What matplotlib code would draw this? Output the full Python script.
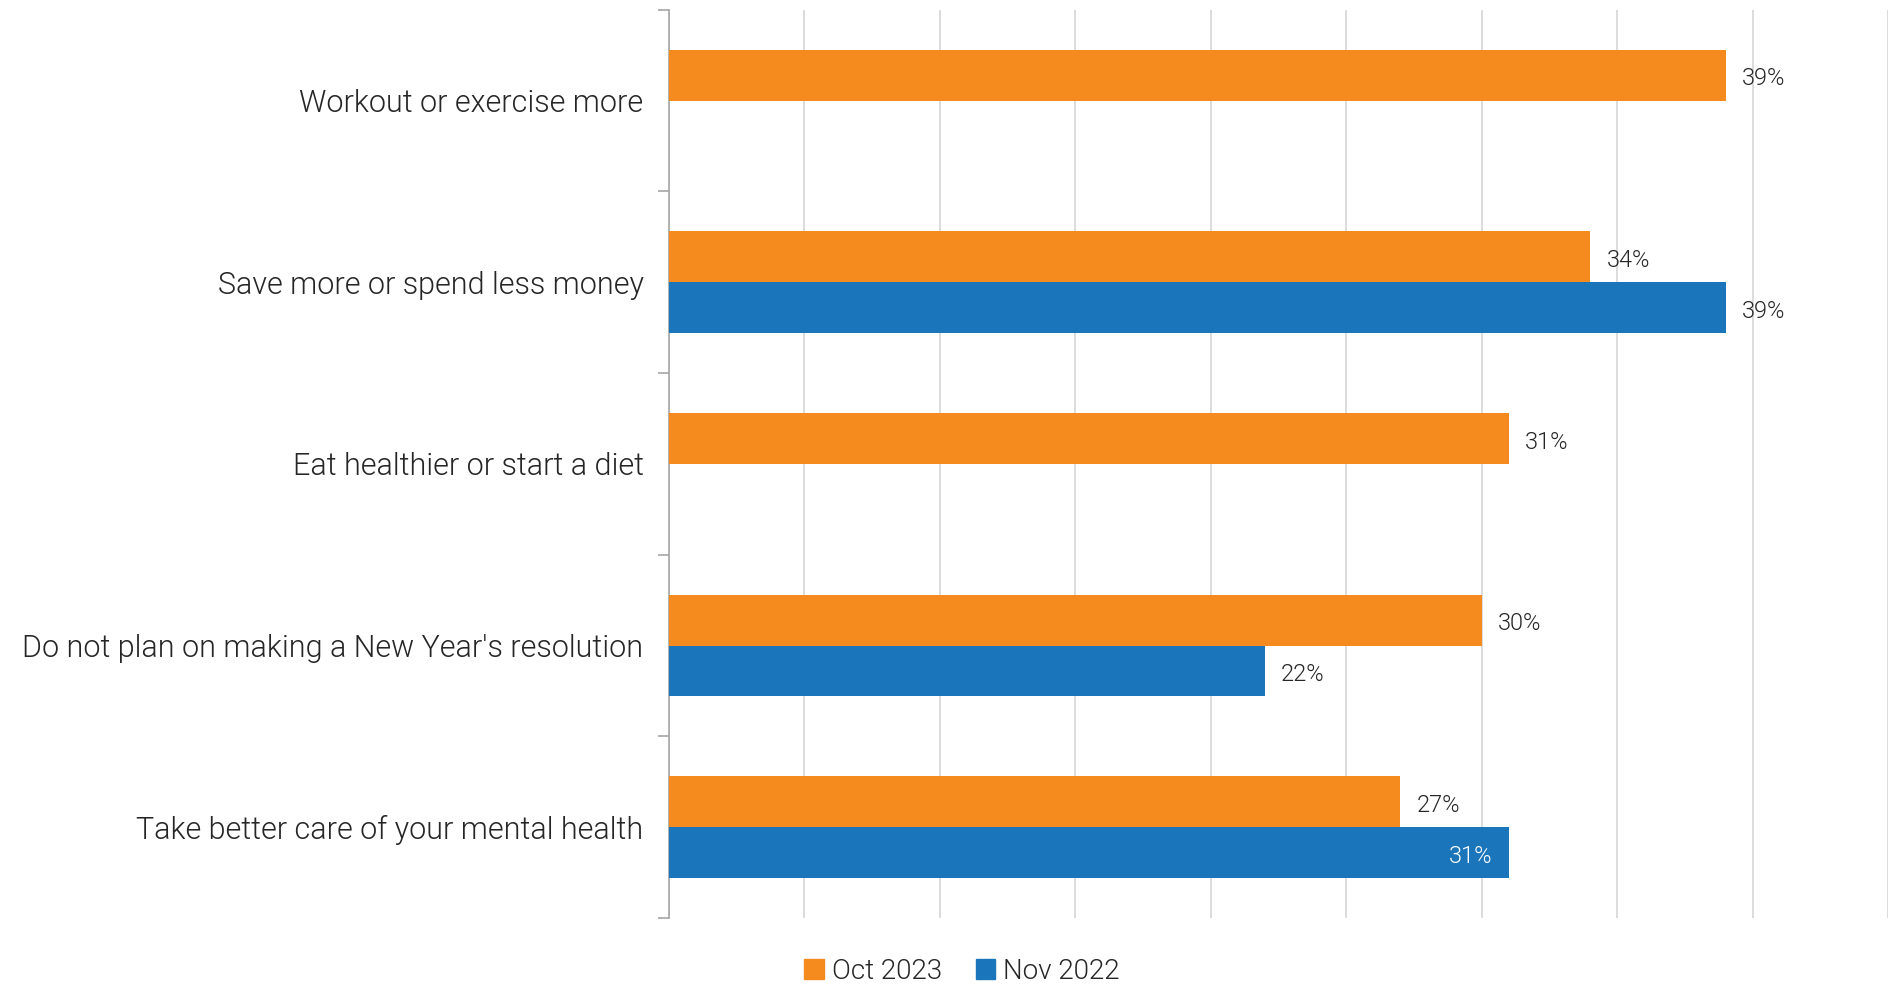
import numpy as np
import matplotlib.pyplot as plt
from matplotlib.patches import Patch

categories = [
    "Workout or exercise more",
    "Save more or spend less money",
    "Eat healthier or start a diet",
    "Do not plan on making a New Year's resolution",
    "Take better care of your mental health",
]
oct_2023 = [39, 34, 31, 30, 27]
nov_2022 = [None, 39, None, 22, 31]

orange = "#F58B1F"
blue = "#1B75BB"
text_col = "#262626"

plt.rcParams['font.family'] = ['Roboto', 'DejaVu Sans']
W = 300

fig = plt.figure(figsize=(18.94, 9.84), dpi=100)
ax = fig.add_axes([0.353, 0.067, 0.644, 0.923])

y = np.arange(len(categories))
h = 0.28

for i, v in enumerate(oct_2023):
    ax.barh(y[i] - h / 2, v, height=h, color=orange, zorder=3)
    ax.text(v + 0.6, y[i] - h / 2 + 0.02, f"{v}%", va="center", ha="left",
            fontsize=17, color=text_col, fontweight=W)

for i, v in enumerate(nov_2022):
    if v is None:
        continue
    ax.barh(y[i] + h / 2, v, height=h, color=blue, zorder=3)
    # last label sits inside the bar end
    if i == len(categories) - 1:
        ax.text(v - 0.6, y[i] + h / 2 + 0.02, f"{v}%", va="center", ha="right",
                fontsize=17, color="white", fontweight=W, zorder=4)
    else:
        ax.text(v + 0.6, y[i] + h / 2 + 0.02, f"{v}%", va="center", ha="left",
                fontsize=17, color=text_col, fontweight=W)

ax.set_xlim(0, 45)
ax.set_ylim(len(categories) - 0.5, -0.5)
ax.set_xticks(np.arange(0, 46, 5))
ax.tick_params(axis="x", length=0, labelbottom=False)
ax.grid(axis="x", color="#d9d9d9", linewidth=1.3, zorder=0)

ax.set_yticks(y)
ax.set_yticklabels(categories, fontsize=22, color=text_col, fontweight=W)
ax.tick_params(axis="y", which="major", length=0, pad=18)
ax.set_yticks(np.arange(-0.5, len(categories)), minor=True)
ax.tick_params(axis="y", which="minor", length=8, color="#a6a6a6", width=1.2)

for s in ["top", "right", "bottom"]:
    ax.spines[s].set_visible(False)
ax.spines["left"].set_color("#a6a6a6")
ax.spines["left"].set_linewidth(1.2)

handles = [Patch(color=orange, label="Oct 2023"), Patch(color=blue, label="Nov 2022")]
fig.legend(handles=handles, loc="center", bbox_to_anchor=(0.508, 0.013), ncol=2,
           frameon=False, handlelength=0.7, handleheight=0.7,
           handletextpad=0.3, columnspacing=1.2, labelcolor=text_col,
           prop={"family": ["Roboto", "DejaVu Sans"], "size": 20, "weight": W})

fig.savefig("out.png", dpi=100)
